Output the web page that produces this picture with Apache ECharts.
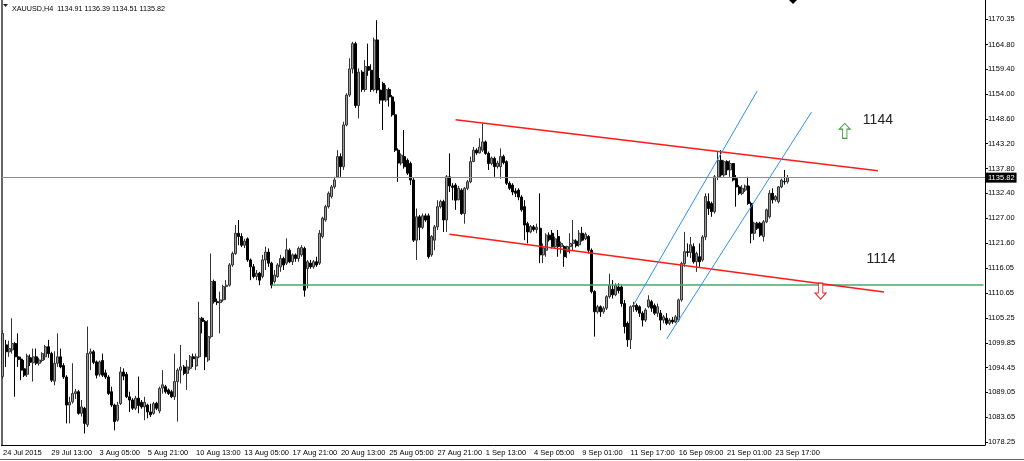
<!DOCTYPE html>
<html>
<head>
<meta charset="utf-8">
<script src="https://cdn.jsdelivr.net/npm/echarts@6/dist/echarts.min.js"></script>
<style>
  html, body { margin: 0; padding: 0; background: #fff; }
  #chart { width: 1024px; height: 461px; }
</style>
</head>
<body>
<div id="chart"></div>
<script>
// XAUUSD H4 bars, each row is [open, high, low, close] as MetaTrader prints them
const candles = [
  [1092.5,1102.6,1092.0,1101.9],[1099.4,1100.5,1094.6,1097.9],[1097.9,1100.3,1096.8,1098.6],[1098.3,1105.2,1097.5,1099.7],
  [1099.7,1100.0,1088.1,1096.8],[1096.8,1101.9,1094.6,1096.2],[1096.3,1096.8,1091.7,1093.9],[1094.2,1096.1,1092.4,1092.8],
  [1093.0,1097.5,1092.4,1097.0],[1096.6,1097.3,1094.8,1095.6],[1095.5,1098.6,1091.4,1096.8],[1096.8,1098.6,1095.0,1095.4],
  [1095.4,1096.6,1094.9,1096.1],[1096.0,1097.8,1095.6,1097.5],[1096.8,1099.4,1096.1,1099.0],[1099.0,1100.5,1096.6,1097.5],
  [1097.5,1097.9,1091.3,1091.7],[1091.5,1098.0,1090.6,1095.4],[1095.4,1101.9,1094.6,1096.8],[1096.8,1098.6,1094.3,1094.6],
  [1094.9,1095.4,1092.0,1092.4],[1092.4,1092.8,1082.3,1086.3],[1086.3,1088.1,1082.3,1086.9],[1087.0,1095.4,1086.6,1088.8],
  [1088.8,1089.8,1087.6,1089.2],[1089.2,1089.6,1084.2,1084.5],[1084.5,1087.4,1083.8,1085.9],[1085.6,1085.9,1080.1,1082.3],
  [1082.0,1103.4,1081.5,1097.5],[1097.5,1098.6,1093.9,1097.9],[1097.9,1098.3,1095.2,1095.6],[1095.7,1096.0,1092.1,1092.8],
  [1093.0,1096.0,1092.5,1095.7],[1096.0,1097.5,1092.4,1092.8],[1093.3,1094.0,1092.0,1092.4],[1092.4,1092.8,1088.5,1088.8],
  [1089.2,1090.3,1085.9,1086.3],[1086.3,1086.6,1080.8,1082.7],[1083.0,1087.0,1082.7,1086.3],[1086.6,1094.6,1086.3,1093.5],
  [1093.5,1094.3,1091.7,1092.6],[1093.0,1093.5,1087.8,1088.1],[1088.1,1089.2,1084.8,1087.4],[1087.4,1087.8,1085.2,1085.6],
  [1085.6,1088.3,1085.2,1087.8],[1087.8,1092.5,1084.5,1086.2],[1086.9,1087.4,1085.5,1085.9],[1085.9,1088.1,1083.0,1086.9],
  [1086.3,1086.6,1083.4,1084.8],[1084.8,1086.6,1083.7,1084.2],[1084.5,1087.0,1084.2,1086.6],[1086.7,1087.0,1085.2,1085.6],
  [1085.0,1090.3,1084.5,1089.9],[1090.0,1093.9,1088.8,1090.7],[1090.3,1090.7,1088.8,1089.2],[1089.6,1089.9,1088.5,1088.8],
  [1089.2,1089.6,1087.8,1088.1],[1088.1,1097.5,1087.4,1091.4],[1091.4,1094.3,1082.7,1093.9],[1093.9,1099.4,1091.0,1094.6],
  [1094.6,1095.0,1092.8,1093.2],[1093.2,1096.1,1089.6,1094.6],[1094.3,1097.2,1093.9,1096.8],[1096.8,1097.5,1094.6,1096.4],
  [1094.8,1097.5,1093.9,1096.8],[1096.8,1108.8,1096.5,1105.2],[1105.2,1105.5,1101.9,1104.5],[1104.5,1104.8,1093.9,1096.8],
  [1096.1,1104.8,1095.7,1101.2],[1101.2,1119.3,1100.8,1113.2],[1113.2,1113.6,1108.4,1108.8],[1108.8,1109.5,1108.1,1108.6],
  [1108.6,1111.0,1101.9,1109.2],[1109.2,1112.5,1108.8,1112.1],[1112.1,1113.5,1109.2,1112.4],[1112.4,1117.2,1112.1,1116.8],
  [1116.8,1119.7,1116.4,1119.3],[1119.3,1125.5,1119.0,1123.7],[1123.7,1126.6,1121.1,1123.0],[1123.0,1123.7,1120.7,1121.1],
  [1121.1,1122.5,1120.5,1122.0],[1122.5,1122.8,1117.5,1117.9],[1117.9,1118.2,1113.5,1116.4],[1116.4,1117.0,1113.9,1114.3],
  [1114.3,1115.7,1113.5,1115.0],[1115.0,1115.3,1112.4,1113.5],[1114.3,1119.0,1113.9,1117.9],[1117.9,1120.8,1115.7,1119.6],
  [1119.6,1120.4,1116.4,1117.2],[1117.2,1117.5,1111.7,1112.4],[1113.2,1115.7,1112.8,1114.6],[1114.3,1117.2,1114.0,1116.8],
  [1116.4,1119.0,1115.3,1118.2],[1118.2,1118.6,1115.7,1116.8],[1117.2,1122.6,1116.8,1120.1],[1120.0,1120.4,1117.2,1117.5],
  [1117.5,1119.3,1116.8,1119.0],[1119.0,1119.3,1117.5,1118.2],[1118.2,1120.8,1117.5,1120.4],[1119.0,1121.1,1118.6,1120.6],
  [1120.4,1120.8,1109.9,1111.3],[1116.0,1117.9,1111.7,1117.5],[1117.2,1117.9,1116.0,1116.4],[1116.4,1117.9,1116.0,1117.5],
  [1117.5,1118.6,1116.4,1116.8],[1117.2,1124.4,1116.8,1123.7],[1123.0,1127.3,1122.6,1127.0],[1126.6,1129.9,1126.2,1129.5],
  [1129.5,1132.8,1129.1,1132.4],[1131.7,1134.2,1131.3,1133.8],[1133.8,1136.0,1133.4,1135.3],[1136.0,1141.8,1135.7,1140.4],
  [1140.4,1141.1,1136.0,1138.2],[1138.2,1148.0,1137.5,1147.3],[1147.3,1154.2,1147.0,1153.8],[1153.8,1161.8,1153.4,1159.5],
  [1159.5,1165.4,1158.5,1165.0],[1165.0,1165.4,1151.0,1151.5],[1151.5,1159.6,1148.7,1158.8],[1158.8,1159.2,1154.5,1155.0],
  [1155.0,1161.4,1154.5,1160.0],[1160.0,1165.0,1158.0,1159.2],[1159.2,1160.5,1154.5,1155.0],[1155.0,1166.3,1154.6,1165.8],
  [1165.8,1170.1,1154.2,1154.9],[1154.9,1157.5,1151.9,1152.7],[1156.3,1156.7,1146.2,1152.7],[1152.7,1156.0,1152.3,1155.0],
  [1155.0,1155.4,1151.3,1153.4],[1153.4,1153.8,1149.1,1149.5],[1149.5,1152.4,1141.4,1141.8],[1141.8,1142.2,1134.9,1139.0],
  [1139.0,1141.1,1138.5,1140.7],[1140.4,1146.2,1137.8,1138.2],[1139.6,1140.0,1136.4,1136.8],[1138.9,1139.3,1134.2,1135.3],
  [1135.3,1135.7,1121.8,1122.2],[1122.2,1129.1,1117.9,1127.3],[1127.3,1127.7,1122.2,1125.0],[1125.0,1128.0,1124.6,1127.5],
  [1127.5,1128.0,1126.2,1126.6],[1127.5,1128.0,1118.2,1118.6],[1119.0,1123.3,1118.6,1123.0],[1122.2,1125.5,1120.0,1125.1],
  [1125.1,1130.9,1124.4,1129.5],[1129.5,1131.0,1129.1,1130.6],[1130.6,1131.0,1124.0,1126.6],[1126.6,1136.4,1124.0,1136.0],
  [1136.0,1141.1,1132.7,1134.0],[1134.0,1134.6,1130.9,1133.7],[1134.2,1134.6,1128.8,1130.9],[1131.0,1134.0,1130.9,1133.5],
  [1133.1,1133.5,1127.7,1128.0],[1128.0,1133.8,1125.8,1133.5],[1133.5,1135.3,1133.1,1134.9],[1134.9,1140.4,1134.6,1139.3],
  [1139.3,1142.5,1139.3,1141.8],[1141.8,1142.2,1140.8,1141.2],[1141.2,1144.4,1141.1,1142.5],[1141.8,1147.6,1141.4,1143.6],
  [1143.6,1143.9,1140.8,1141.1],[1141.1,1141.5,1137.5,1138.9],[1138.9,1140.4,1138.5,1140.1],[1140.0,1140.4,1136.0,1138.2],
  [1138.2,1139.5,1137.8,1139.0],[1138.2,1142.2,1135.6,1140.4],[1140.4,1140.8,1138.7,1139.1],[1139.3,1139.6,1134.2,1134.6],
  [1134.6,1135.0,1133.1,1133.5],[1134.2,1134.6,1132.0,1132.7],[1132.9,1133.5,1131.6,1132.4],[1133.1,1133.5,1130.9,1131.6],
  [1131.6,1132.0,1128.4,1128.8],[1129.5,1130.9,1122.2,1125.5],[1125.8,1126.2,1121.5,1124.0],[1124.0,1125.5,1123.7,1125.2],
  [1125.1,1125.5,1124.1,1124.5],[1124.5,1125.8,1123.7,1125.0],[1124.8,1132.4,1117.2,1119.0],[1119.0,1121.5,1117.2,1120.5],
  [1120.0,1123.7,1118.6,1123.3],[1123.3,1123.9,1121.9,1122.3],[1123.7,1124.4,1120.4,1120.8],[1120.8,1123.0,1120.4,1122.5],
  [1123.0,1124.4,1118.6,1120.8],[1120.8,1121.9,1119.3,1121.5],[1120.8,1121.1,1116.4,1118.6],[1119.7,1121.0,1118.3,1120.8],
  [1120.8,1123.7,1119.3,1121.5],[1121.5,1126.6,1120.0,1122.2],[1122.0,1122.4,1120.6,1121.0],[1121.2,1124.4,1120.8,1123.7],
  [1123.7,1125.1,1121.9,1122.2],[1122.5,1123.9,1122.2,1123.5],[1123.0,1123.3,1119.3,1120.0],[1120.0,1120.4,1110.6,1111.0],
  [1111.0,1111.3,1101.2,1106.6],[1106.6,1108.1,1106.2,1107.7],[1107.7,1108.0,1105.5,1106.6],[1106.6,1107.8,1106.2,1107.4],
  [1107.4,1110.2,1107.0,1109.9],[1109.9,1114.9,1109.5,1112.4],[1111.5,1113.5,1109.5,1110.3],[1110.3,1112.8,1110.0,1112.4],
  [1112.0,1112.8,1110.6,1111.2],[1112.0,1112.4,1107.7,1108.4],[1108.4,1109.2,1101.9,1103.4],[1104.1,1104.5,1099.0,1100.5],
  [1100.5,1108.0,1098.5,1107.7],[1107.7,1108.8,1106.6,1108.0],[1108.0,1108.4,1106.6,1107.0],[1107.7,1108.0,1105.5,1106.3],
  [1106.3,1106.7,1103.4,1104.8],[1104.8,1107.4,1104.4,1107.0],[1107.7,1110.2,1107.4,1109.2],[1108.8,1109.2,1106.6,1107.4],
  [1108.0,1108.4,1105.9,1106.3],[1106.3,1108.4,1105.5,1107.7],[1106.3,1107.0,1102.6,1104.8],[1104.8,1105.9,1104.1,1105.5],
  [1105.2,1106.3,1103.7,1104.1],[1104.1,1105.2,1103.7,1104.8],[1104.8,1105.5,1104.0,1104.4],[1104.4,1105.9,1104.1,1105.5],
  [1104.8,1109.5,1104.4,1109.2],[1109.2,1117.5,1108.8,1117.1],[1117.1,1124.0,1116.4,1119.7],[1119.7,1121.5,1118.6,1119.5],
  [1119.5,1122.9,1118.3,1121.2],[1120.8,1121.5,1117.1,1117.5],[1117.5,1119.7,1115.3,1119.3],[1118.6,1121.5,1116.4,1117.5],
  [1117.9,1123.3,1117.5,1122.9],[1122.9,1132.4,1122.2,1131.7],[1130.6,1132.4,1127.7,1129.1],[1130.2,1130.6,1127.3,1128.4],
  [1128.4,1136.4,1128.0,1136.0],[1136.0,1141.4,1135.3,1139.6],[1139.6,1141.8,1136.0,1136.4],[1136.4,1139.6,1136.0,1139.3],
  [1139.3,1139.6,1136.4,1137.5],[1137.5,1139.6,1136.0,1138.9],[1138.9,1139.0,1135.0,1135.3],[1135.6,1136.4,1129.5,1133.8],
  [1133.8,1134.2,1132.0,1132.4],[1132.4,1134.2,1132.0,1133.5],[1133.1,1134.3,1132.7,1134.0],[1134.0,1136.0,1129.9,1130.2],
  [1130.2,1130.6,1121.5,1123.7],[1123.7,1126.2,1122.2,1125.9],[1125.9,1126.2,1124.4,1124.8],[1125.9,1126.2,1122.9,1123.3],
  [1123.0,1126.6,1121.9,1126.2],[1126.2,1129.1,1125.9,1128.8],[1127.3,1133.1,1126.9,1132.4],[1132.4,1133.5,1130.2,1131.0],
  [1131.0,1132.0,1130.6,1131.7],[1130.6,1134.0,1130.2,1133.8],[1133.8,1135.6,1133.5,1135.3],[1135.0,1137.5,1134.3,1134.9],
  [1134.91,1136.39,1134.51,1135.82]
]

// labels every 16 bars along the time scale
const timeLabels = ['24 Jul 2015', '29 Jul 13:00', '3 Aug 05:00', '5 Aug 21:00', '10 Aug 13:00', '13 Aug 05:00',
  '17 Aug 21:00', '20 Aug 13:00', '25 Aug 05:00', '27 Aug 21:00', '1 Sep 13:00', '4 Sep 05:00', '9 Sep 01:00',
  '11 Sep 17:00', '16 Sep 09:00', '21 Sep 01:00', '23 Sep 17:00']
const labelStep = 16
// price scale labels on the right
const priceTicks = [1078.25, 1083.65, 1089.05, 1094.45, 1099.85, 1105.25, 1110.65, 1116.05, 1121.60,
  1127.00, 1132.40, 1137.80, 1143.20, 1148.60, 1154.00, 1159.40, 1164.80, 1170.35]
const priceRange = [1077.6, 1174.5]
const slotCount = 326 // bars + empty chart shift on the right

// drawn objects: [barIndex, price]
const channelDown = [[[150, 1148.4], [290, 1137.3]], [[148, 1123.5], [292, 1110.9]]]
const channelUp = [[[209, 1108.1], [250, 1154.7]], [[220, 1100.7], [268, 1150.1]]]
const supportLine = [[89, 1112.4], [325, 1112.4]]
const upArrowAt = [279, 1146.0]
const downArrowAt = [271, 1111.1]
const notes = [['1144', [290, 1148.4]], ['1114', [291, 1118.1]]]

const last = candles[candles.length - 1]
const lastClose = last[3]
const font = 'Liberation Sans'
const textColor = '#000'

let chart = echarts.init(document.getElementById('chart'))

const trendLine = (pts, color, width) => [
  { coord: pts[0], lineStyle: { color: color, width: width, type: 'solid' } },
  { coord: pts[1] },
]
const showLabelAt = (idx) => idx % labelStep === 0 && idx / labelStep < timeLabels.length

chart.setOption({
  animation: false,
  title: {
    text: 'XAUUSD,H4  ' + last.map((v) => v.toFixed(2)).join(' '),
    left: 7,
    top: 1,
    textStyle: { fontFamily: font, fontSize: 7.2, fontWeight: 'normal', color: textColor },
  },
  grid: { left: 1, right: 39, top: 0, bottom: 16 },
  xAxis: {
    type: 'category',
    data: Array.from({ length: slotCount }, (_, i) => i),
    axisLine: { lineStyle: { color: '#000', width: 1 } },
    axisTick: {
      alignWithLabel: true,
      length: 3,
      lineStyle: { color: '#000' },
      interval: showLabelAt,
    },
    axisLabel: {
      interval: showLabelAt,
      formatter: (v, idx) => timeLabels[idx / labelStep] || '',
      align: 'left',
      margin: 4,
      fontFamily: font,
      fontSize: 7.5,
      color: textColor,
    },
    splitLine: { show: false },
  },
  yAxis: [
    {
      type: 'value',
      position: 'right',
      min: priceRange[0],
      max: priceRange[1],
      axisLine: { show: true, lineStyle: { color: '#000' } },
      axisTick: { show: true, length: 3, customValues: priceTicks, lineStyle: { color: '#000' } },
      axisLabel: {
        customValues: priceTicks,
        formatter: (v) => v.toFixed(2),
        margin: 3,
        fontFamily: font,
        fontSize: 7.5,
        color: textColor,
      },
      splitLine: { show: false },
    },
    {
      type: 'value',
      position: 'left',
      min: priceRange[0],
      max: priceRange[1],
      axisLine: { show: true, lineStyle: { color: '#333', width: 1.5 } },
      axisTick: { show: false },
      axisLabel: { show: false },
      splitLine: { show: false },
    },
  ],
  series: [
    {
      type: 'candlestick',
      yAxisIndex: 0,
      barWidth: 2.5,
      // echarts order: open, close, low, high
      data: candles.map((c) => [c[0], c[3], c[2], c[1]]),
      itemStyle: {
        color: '#9a9a9a',
        borderColor: '#333',
        color0: '#000',
        borderColor0: '#000',
        borderWidth: 1,
      },
      markLine: {
        silent: true,
        symbol: ['none', 'none'],
        label: { show: false },
        data: [
          {
            yAxis: lastClose,
            lineStyle: { color: '#8c8c8c', width: 1, type: 'solid' },
            label: {
              show: true,
              position: 'end',
              distance: 1,
              formatter: lastClose.toFixed(2),
              backgroundColor: '#000',
              color: '#fff',
              fontFamily: font,
              fontSize: 7.5,
              padding: [1, 2, 1, 2],
            },
          },
          trendLine(supportLine, '#3fae6a', 1.5),
          trendLine(channelDown[0], '#ff1a1a', 1.5),
          trendLine(channelDown[1], '#ff1a1a', 1.5),
          trendLine(channelUp[0], '#2f8ff0', 1),
          trendLine(channelUp[1], '#2f8ff0', 1),
        ],
      },
      markPoint: {
        silent: true,
        data: [
          {
            coord: upArrowAt,
            symbol: 'path://M5,0L10,5L7,5L7,13L3,13L3,5L0,5Z',
            symbolSize: [11, 15],
            itemStyle: { color: '#fff', borderColor: '#3a9a3a', borderWidth: 1 },
            label: { show: false },
          },
          {
            coord: downArrowAt,
            symbol: 'path://M3,0L7,0L7,8L10,8L5,13L0,8L3,8Z',
            symbolSize: [11, 16],
            itemStyle: { color: '#fff', borderColor: '#e61e1e', borderWidth: 1 },
            label: { show: false },
          },
        ].concat(
          notes.map((n) => ({
            coord: n[1],
            symbol: 'circle',
            symbolSize: 1,
            itemStyle: { color: 'rgba(0,0,0,0)' },
            label: {
              show: true,
              position: 'inside',
              formatter: n[0],
              fontFamily: font,
              fontSize: 14,
              color: '#222',
            },
          }))
        ),
      },
    },
  ],
  graphic: [
    // small menu triangle before the symbol name
    { type: 'polygon', shape: { points: [[3, 4], [8, 4], [5.5, 7]] }, style: { fill: '#222' } },
    // chart shift marker at the top
    { type: 'polygon', shape: { points: [[789, 0], [797, 0], [793, 4]] }, style: { fill: '#000' } },
    // tab bar edge under the time scale
    { type: 'line', shape: { x1: 0, y1: 459.5, x2: 1024, y2: 459.5 }, style: { stroke: '#666', lineWidth: 1 } },
  ],
})
</script>
</body>
</html>
